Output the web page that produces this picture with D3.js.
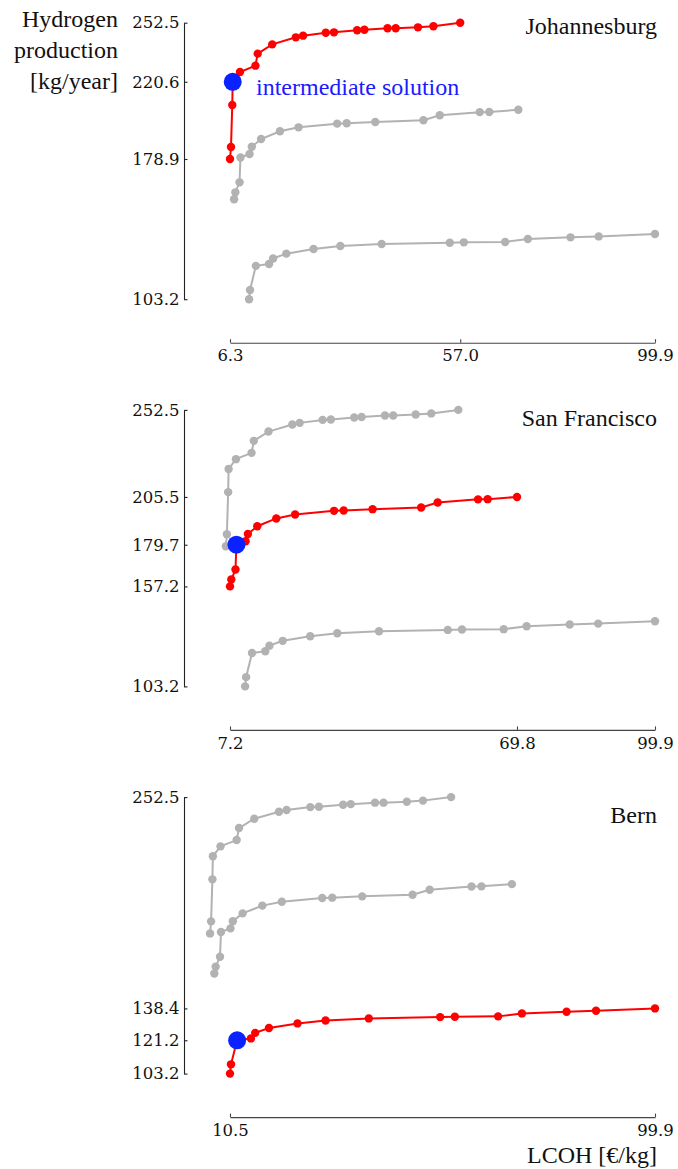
<!DOCTYPE html>
<html><head><meta charset="utf-8">
<script src="https://cdn.jsdelivr.net/npm/d3@7"></script>
<style>body{margin:0;background:#fff}svg{display:block}</style>
</head><body>
<svg id="chart" width="678" height="1169"></svg>
<script>
// ---- data ----
const locations = ["Johannesburg", "San Francisco", "Bern"];

const lcohJohannesburg = [6.3, 6.52, 6.8, 6.9, 8.5, 11.9, 12.4, 15.6, 20.8, 22.4, 27.4, 29.2, 34.3, 35.9, 41.0, 42.8, 47.7, 51.1, 57.0];
const h2Johannesburg   = [178.9, 185.4, 208.1, 220.6, 225.9, 229.3, 235.8, 240.8, 244.6, 245.5, 247.1, 247.3, 248.4, 248.7, 249.5, 249.5, 250.0, 250.6, 252.5];

const lcohSanFrancisco = [7.2, 7.48, 8.4, 8.6, 10.6, 11.1, 13.15, 17.3, 21.4, 29.9, 32.0, 38.3, 48.9, 52.5, 61.3, 63.4, 69.8];
const h2SanFrancisco   = [157.2, 160.9, 166.3, 179.7, 181.6, 185.5, 189.7, 193.9, 196.0, 198.0, 198.2, 198.9, 199.8, 202.5, 204.2, 204.3, 205.5];

const lcohBern = [10.5, 10.71, 12.0, 14.9, 15.8, 18.7, 24.7, 30.6, 39.7, 54.7, 57.8, 66.9, 71.9, 81.3, 87.5, 99.9];
const h2Bern   = [103.2, 108.2, 121.2, 122.2, 125.2, 127.8, 130.3, 131.9, 133.0, 133.7, 133.9, 134.1, 135.7, 136.6, 137.1, 138.4];

const intermediateLCOH = [6.9, 8.6, 12.0];
const intermediateH2   = [220.6, 179.7, 121.2];

const xTickValues = [[6.3, 57.0, 99.9], [7.2, 69.8, 99.9], [10.5, 99.9]];
const yTickValues = [[252.5, 220.6, 178.9, 103.2], [252.5, 205.5, 179.7, 157.2, 103.2], [252.5, 138.4, 121.2, 103.2]];

const yLabelLines = ["Hydrogen", "production", "[kg/year]"];
const xLabel = "LCOH [€/kg]";
const annotationText = "intermediate solution";

// ---- build ----
const seriesLCOH = [lcohJohannesburg, lcohSanFrancisco, lcohBern];
const seriesH2 = [h2Johannesburg, h2SanFrancisco, h2Bern];
const series = locations.map((name, k) => ({
  name,
  points: seriesLCOH[k].map((x, j) => ({x, y: seriesH2[k][j]}))
}));

const svg = d3.select("#chart");
const RED = "#ff0000", GRAY = "#b2b2b2", BLUE = "#0a22ff";
const serif = '"Liberation Serif", "Times New Roman", serif';
const tickFont = '"DejaVu Serif", serif';

const xLeft = 230, xRight = 655, spineX = 184;
const panelTop0 = 22.7, panelStep = 387.2, plotH = 276.5, xAxisOffset = 320;
const nameBaseline = [34, 426, 823];

const yDomain = [103.2, 252.5];

locations.forEach((loc, i) => {
  const top = panelTop0 + i * panelStep;
  const xt = xTickValues[i];
  const x = d3.scaleLinear().domain([xt[0], xt[xt.length - 1]]).range([xLeft, xRight]);
  const y = d3.scaleLinear().domain(yDomain).range([top + plotH, top]);
  const g = svg.append("g");

  const line = d3.line().x(d => x(d.x)).y(d => y(d.y));

  const order = series.map((s, k) => k).filter(k => k !== i).concat([i]);
  order.forEach(k => {
    const col = k === i ? RED : GRAY;
    const s = series[k];
    g.append("path").datum(s.points)
      .attr("d", line).attr("fill", "none")
      .attr("stroke", col).attr("stroke-width", 2);
    g.selectAll(null).data(s.points).enter().append("circle")
      .attr("cx", d => x(d.x)).attr("cy", d => y(d.y))
      .attr("r", 4.2).attr("fill", col);
  });

  g.append("circle")
    .attr("cx", x(intermediateLCOH[i])).attr("cy", y(intermediateH2[i]))
    .attr("r", 9).attr("fill", BLUE);

  // y axis
  const yAxis = d3.axisLeft(y).tickValues(yTickValues[i])
    .tickFormat(d3.format(".1f")).tickSizeInner(-3.5).tickSizeOuter(0).tickPadding(4.5);
  const ya = svg.append("g").attr("transform", `translate(${spineX},0)`).call(yAxis);
  ya.select(".domain").attr("stroke", "#222").attr("stroke-width", 1.1);
  ya.selectAll(".tick line").attr("stroke", "#222").attr("stroke-width", 1.1);
  ya.selectAll("text").style("font-family", tickFont).style("font-size", "16.5px").attr("fill", "#111");

  // x axis
  const xAxis = d3.axisBottom(x).tickValues(xt)
    .tickFormat(d3.format(".1f")).tickSizeInner(-3.5).tickSizeOuter(0).tickPadding(7);
  const xa = svg.append("g").attr("transform", `translate(0,${top + xAxisOffset})`).call(xAxis);
  xa.select(".domain").attr("stroke", "#444").attr("stroke-width", 1.1);
  xa.selectAll(".tick line").attr("stroke", "#444").attr("stroke-width", 1.1);
  xa.selectAll("text").style("font-family", tickFont).style("font-size", "16.5px").attr("fill", "#111");

  // location name
  svg.append("text").attr("x", 657).attr("y", nameBaseline[i])
    .attr("text-anchor", "end").style("font-family", serif).style("font-size", "24px")
    .attr("fill", "#111").text(loc);

  if (i === 0) {
    svg.append("text").attr("x", 256).attr("y", 95)
      .style("font-family", serif).style("font-size", "24px").attr("fill", "#1a1aff")
      .text(annotationText);
  }
});

// y label
svg.append("text").attr("text-anchor", "end").style("font-family", serif)
  .style("font-size", "24px").attr("fill", "#111")
  .selectAll("tspan").data(yLabelLines).enter().append("tspan")
  .attr("x", 118).attr("y", (d, j) => 27 + j * 30.8).text(d => d);

// x label
svg.append("text").attr("x", 657).attr("y", 1163).attr("text-anchor", "end")
  .style("font-family", serif).style("font-size", "24px").attr("fill", "#111").text(xLabel);
</script>
</body></html>
